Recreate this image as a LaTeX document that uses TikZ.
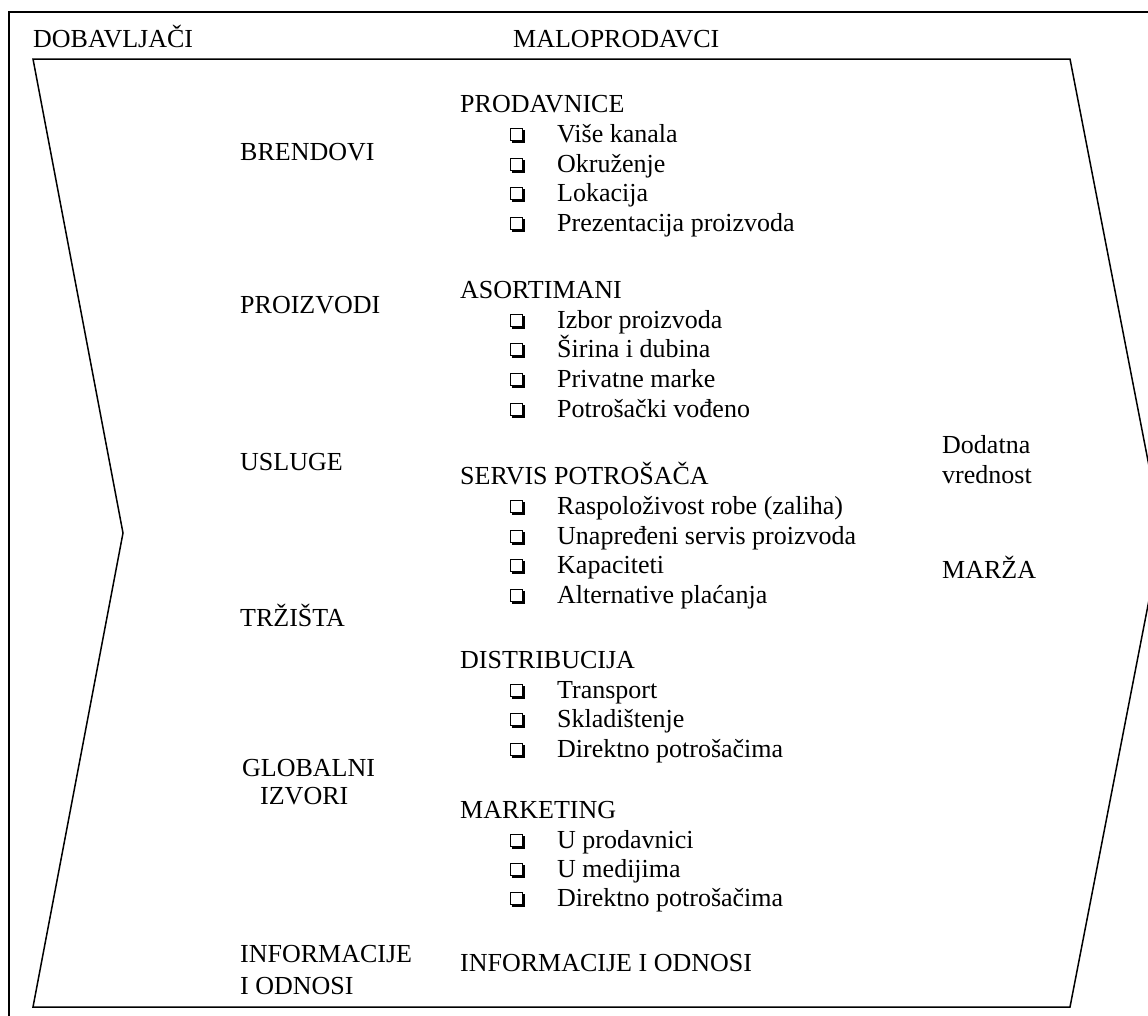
\documentclass[tikz,border=0pt]{standalone}
\usepackage{fontspec}
\setmainfont{Liberation Serif}
\usetikzlibrary{shadows}
% one item of a list: square bullet plus its text
\newcommand\listitem[3]{%
  \node[chk] (#1b) at (516.5,#2-7.5) {};
  \node[lbl] (#1) at (557,#2) {#3};}
\begin{document}
\begin{tikzpicture}[x=1pt,y=-1pt,
  lbl/.style={anchor=base west, inner sep=0pt, font=\fontsize{26}{30}\selectfont},
  chk/.style={draw=black, fill=white, line width=1pt, minimum size=12.5pt, inner sep=0pt,
    drop shadow={shadow xshift=2pt, shadow yshift=-2pt, fill=black, opacity=1}},
  frame/.style={line width=2pt},
  chev/.style={line width=1.5pt, line join=miter}]
\useasboundingbox (0,0) rectangle (1148,1015);
\clip (0,0) rectangle (1148,1015);

% outer frame
\draw[frame] (9,1040) -- (9,12) -- (1180,12);

% value chain chevron
\draw[chev] (33,59) -- (1070,59) -- (1162,533) -- (1070,1007) -- (33,1007) -- (123,533) -- cycle;

% column titles
\node[lbl] (dob) at (33,47) {DOBAVLJAČI};
\node[lbl] (malo) at (513,47) {MALOPRODAVCI};

% supplier side
\node[lbl] (brend) at (240,160) {BRENDOVI};
\node[lbl] (proiz) at (240,313) {PROIZVODI};
\node[lbl] (usl) at (240,470) {USLUGE};
\node[lbl] (trz) at (240,626) {TRŽIŠTA};
\node[lbl] (glob) at (242,776) {GLOBALNI};
\node[lbl] (izv) at (260,804) {IZVORI};
\node[lbl] (info) at (240,962) {INFORMACIJE};
\node[lbl] (odn) at (240,994) {I ODNOSI};

% retailer side
\node[lbl] (prod) at (460,112) {PRODAVNICE};
\listitem{p1}{142}{Više kanala}
\listitem{p2}{172}{Okruženje}
\listitem{p3}{201}{Lokacija}
\listitem{p4}{231}{Prezentacija proizvoda}

\node[lbl] (asort) at (460,298) {ASORTIMANI};
\listitem{a1}{328}{Izbor proizvoda}
\listitem{a2}{357}{Širina i dubina}
\listitem{a3}{387}{Privatne marke}
\listitem{a4}{417}{Potrošački vođeno}

\node[lbl] (serv) at (460,484) {SERVIS POTROŠAČA};
\listitem{s1}{514}{Raspoloživost robe (zaliha)}
\listitem{s2}{544}{Unapređeni servis proizvoda}
\listitem{s3}{573}{Kapaciteti}
\listitem{s4}{603}{Alternative plaćanja}

\node[lbl] (dist) at (460,668) {DISTRIBUCIJA};
\listitem{d1}{698}{Transport}
\listitem{d2}{727}{Skladištenje}
\listitem{d3}{757}{Direktno potrošačima}

\node[lbl] (mark) at (460,818) {MARKETING};
\listitem{m1}{848}{U prodavnici}
\listitem{m2}{877}{U medijima}
\listitem{m3}{906}{Direktno potrošačima}

\node[lbl] (inf2) at (460,971) {INFORMACIJE I ODNOSI};

% margin side
\node[lbl] (dod) at (942,453) {Dodatna};
\node[lbl] (vred) at (942,483) {vrednost};
\node[lbl] (marza) at (942,578) {MARŽA};
\end{tikzpicture}
\end{document}
